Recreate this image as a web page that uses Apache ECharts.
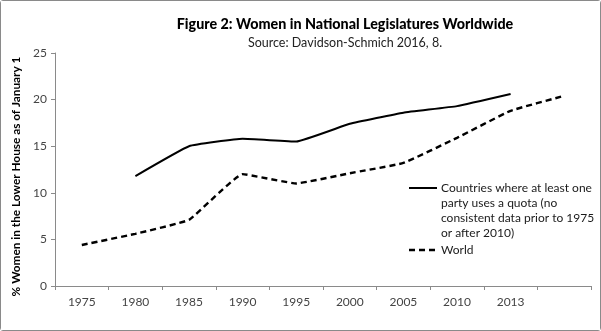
<!DOCTYPE html>
<html>
<head>
<meta charset="utf-8">
<script src="https://cdn.jsdelivr.net/npm/echarts@6/dist/echarts.min.js"></script>
<style>
  html, body { margin: 0; padding: 0; background: #fff; }
  #chart { width: 601px; height: 331px; box-sizing: border-box; border: 1px solid #8a8a8a; border-radius: 3px; }
</style>
</head>
<body>
<div id="chart"></div>
<script>
// Survey years (the last column carries the extra World point with no label)
const years = ['1975', '1980', '1985', '1990', '1995', '2000', '2005', '2010', '2013', ''];
// Countries where at least one party uses a quota (no data for 1975 or the final column)
const quotaValues = [null, 11.8, 15.0, 15.8, 15.5, 17.4, 18.6, 19.3, 20.6, null];
// World average
const worldValues = [4.4, 5.6, 7.1, 12.0, 11.0, 12.1, 13.2, 15.9, 18.8, 20.4];
const yTicks = { min: 0, max: 25, step: 5 };

const quotaLines = ['Countries where at least one', 'party uses a quota (no', 'consistent data prior to 1975', 'or after 2010)'];
const quotaName = quotaLines.join(' ');
const worldName = 'World';

const font = 'Lato, "Open Sans", sans-serif';
const quotaStyle = { color: '#000', width: 2 };
const worldStyle = { color: '#000', width: 2.4, type: [6, 4] };

// Key drawn at the right of the plot: a line sample followed by its wrapped label
function keyEntry(x, y, lines, lineStyle) {
  return [{
    type: 'line', silent: true,
    shape: { x1: x, y1: y, x2: x + 28, y2: y },
    style: { stroke: lineStyle.color, lineWidth: lineStyle.width, lineDash: lineStyle.type === 'solid' ? null : lineStyle.type }
  }, {
    type: 'text', silent: true, x: x + 32, y: y - 8,
    style: { text: lines.join('\n'), fill: '#1a1a1a', font: '12px ' + font, lineHeight: 15.3, verticalAlign: 'top' }
  }];
}

const chart = echarts.init(document.getElementById('chart'));
chart.setOption({
  animation: false,
  backgroundColor: '#fff',
  title: {
    text: 'Figure 2: Women in National Legislatures Worldwide',
    subtext: 'Source: Davidson-Schmich 2016, 8.',
    left: 339, textAlign: 'center', top: 11, itemGap: 5,
    textStyle: { fontFamily: font, fontSize: 14.3, fontWeight: 900, color: '#000' },
    subtextStyle: { fontFamily: font, fontSize: 12.5, color: '#222' }
  },
  graphic: [].concat(
    keyEntry(408, 187, quotaLines, Object.assign({}, quotaStyle, { type: 'solid' })),
    keyEntry(408, 249, [worldName], worldStyle)
  ),
  grid: { left: 54, right: 9, top: 52, bottom: 44 },
  xAxis: {
    type: 'category', data: years, boundaryGap: true,
    axisLine: { lineStyle: { color: '#8a8a8a' } },
    axisTick: { show: true, interval: 0, length: 4, lineStyle: { color: '#8a8a8a' } },
    axisLabel: { interval: 0, color: '#444', fontFamily: font, fontSize: 12, margin: 10 }
  },
  yAxis: {
    type: 'value', min: yTicks.min, max: yTicks.max, interval: yTicks.step,
    name: '% Women in the Lower House as of January 1',
    nameLocation: 'middle', nameGap: 28,
    nameTextStyle: { fontFamily: font, fontSize: 11.8, fontWeight: 'bold', color: '#000', padding: [0, 14, 0, 0] },
    splitLine: { show: false },
    axisLine: { show: true, lineStyle: { color: '#8a8a8a' } },
    axisTick: { show: true, length: 4, lineStyle: { color: '#8a8a8a' } },
    axisLabel: { color: '#444', fontFamily: font, fontSize: 12, margin: 8 }
  },
  series: [{
    name: quotaName, type: 'line', data: quotaValues,
    symbol: 'none', smooth: 0.1, connectNulls: false,
    lineStyle: quotaStyle, itemStyle: { color: '#000' }
  }, {
    name: worldName, type: 'line', data: worldValues,
    symbol: 'none', smooth: 0.1,
    lineStyle: worldStyle, itemStyle: { color: '#000' }
  }]
});
</script>
</body>
</html>
